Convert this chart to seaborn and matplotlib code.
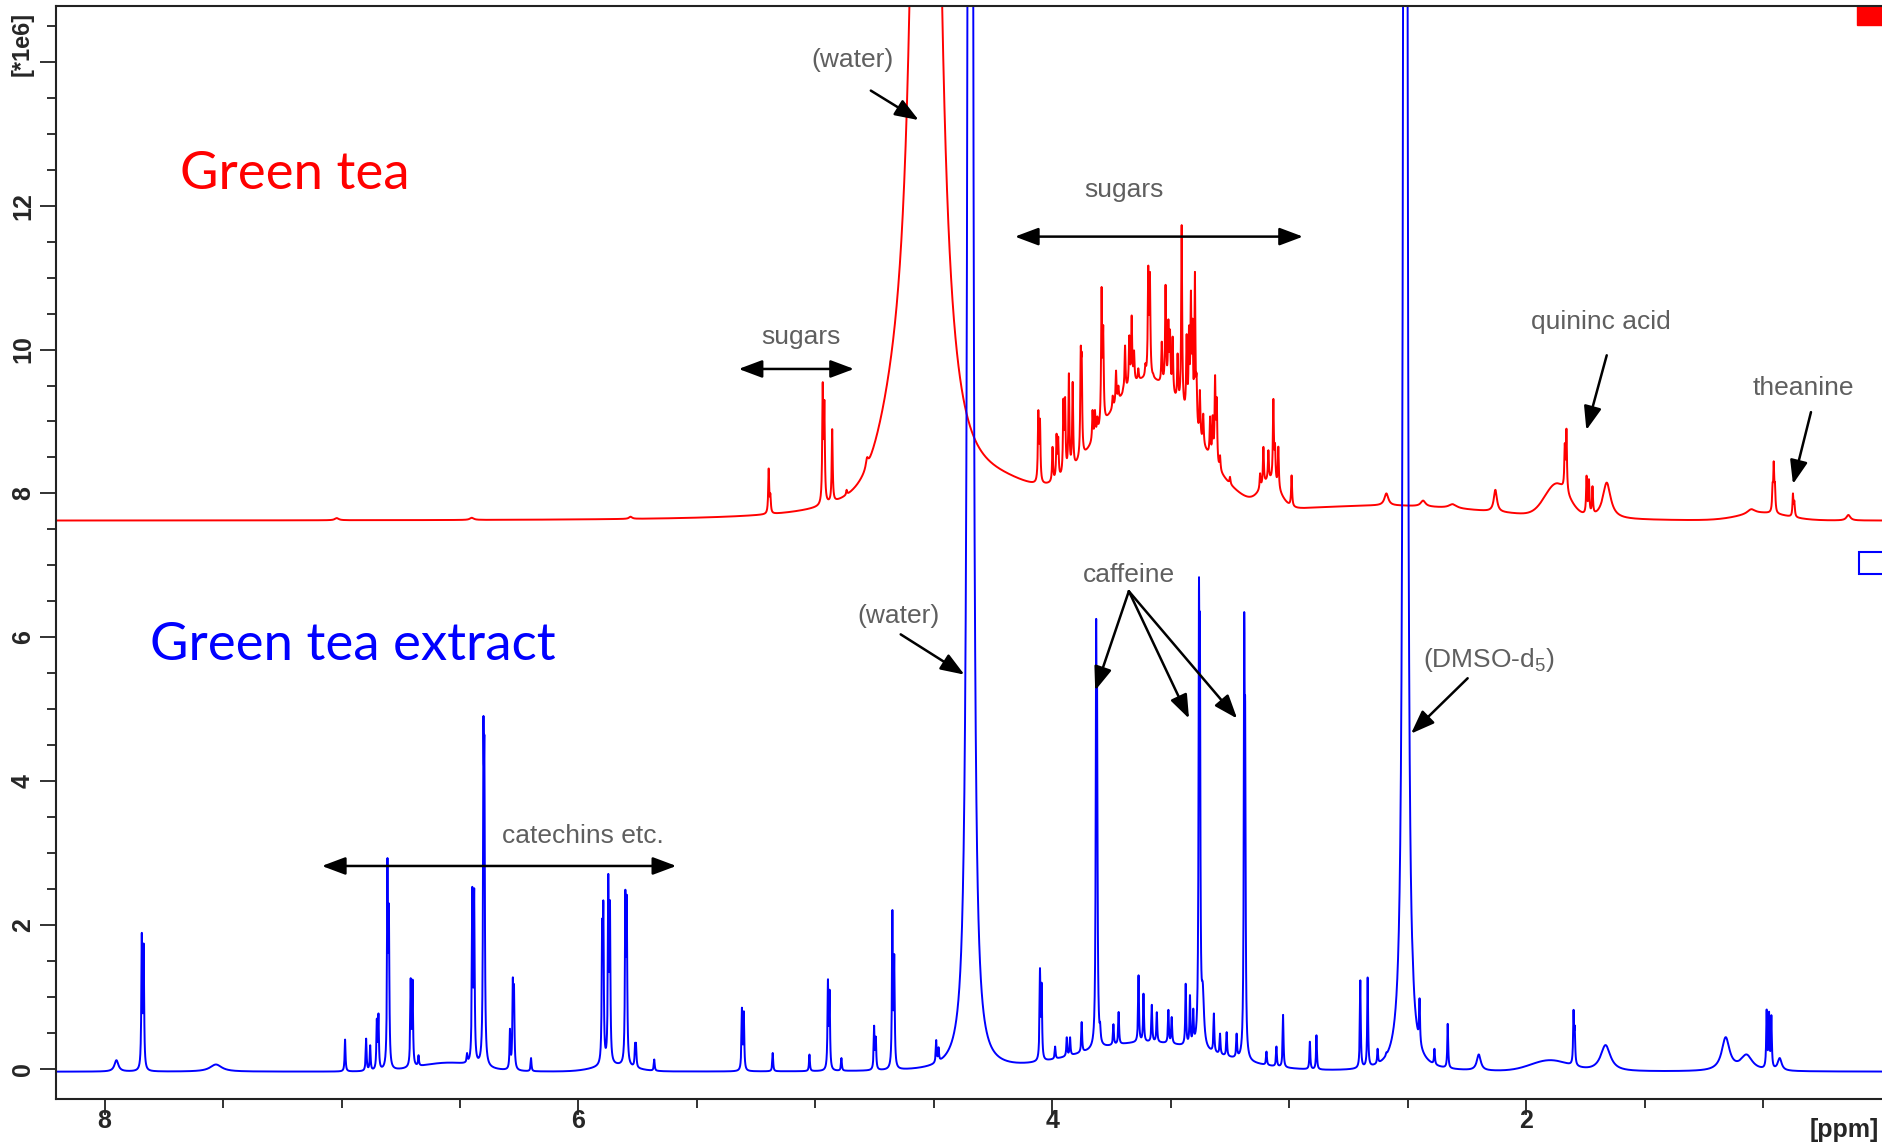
import numpy as np
import pandas as pd
import seaborn as sns
import matplotlib.pyplot as plt
from matplotlib.patches import Rectangle

# chemical shift grid (ppm)
ppm = np.arange(0.49, 8.21, 0.0004)

# ---------------- Green tea (red trace) ----------------
red_offset = 7.62
# broad background humps: centre, height, sigma
red_hump_ppm = [3.60, 4.20, 2.60, 1.87, 3.08, 1.00, 4.66]
red_hump_height = [1.90, 0.30, 0.20, 0.45, 0.35, 0.10, 0.55]
red_hump_sigma = [0.20, 0.15, 0.45, 0.05, 0.04, 0.10, 0.07]
# solvent (water) line
red_solvent_ppm = [4.533]
red_solvent_height = [40.0]
red_solvent_width = [0.0316]
# sharp lines: position and apparent total height (1e6)
red_sharp_ppm = [5.197, 5.190, 4.969, 4.962, 4.929, 4.868,
                 4.059, 4.052, 3.999, 3.982, 3.975, 3.953, 3.946, 3.930, 3.914,
                 3.880, 3.876, 3.830, 3.820, 3.810, 3.792, 3.785, 3.745, 3.731,
                 3.721, 3.700, 3.693, 3.675, 3.665, 3.655, 3.637, 3.607, 3.595,
                 3.588, 3.574, 3.538, 3.522, 3.510, 3.503, 3.492, 3.471, 3.454,
                 3.433, 3.423, 3.415, 3.408, 3.398, 3.391, 3.377, 3.363, 3.334,
                 3.323, 3.313, 3.306, 3.292, 3.250, 3.123, 3.109, 3.088, 3.067,
                 3.060, 3.046, 2.990,
                 1.837, 1.830, 1.745, 1.735, 1.720, 0.960, 0.955, 0.950, 0.874, 0.868]
red_sharp_height = [8.35, 8.00, 9.55, 9.30, 8.90, 8.05,
                    9.16, 9.04, 8.65, 8.83, 8.79, 9.32, 9.34, 9.67, 9.55,
                    10.04, 9.95, 9.16, 9.16, 9.07, 10.87, 10.34, 9.36, 9.71,
                    9.50, 9.41, 10.06, 10.20, 10.48, 9.99, 9.74, 9.81, 11.17,
                    11.08, 9.57, 10.11, 10.90, 10.42, 10.28, 10.18, 9.95, 11.73,
                    10.22, 10.34, 10.83, 10.43, 11.08, 9.67, 9.44, 9.11, 9.07,
                    9.09, 9.65, 9.34, 8.53, 8.23, 8.28, 8.65, 8.60, 9.32,
                    8.70, 8.65, 8.25,
                    8.70, 8.90, 8.25, 8.20, 8.10, 8.15, 8.45, 8.15, 8.00, 7.90]
red_sharp_width = 0.0024
# broader lines: position, total height, half width
red_broad_ppm = [4.782, 2.590, 2.435, 2.310, 2.130, 1.660, 1.050, 0.640, 7.020, 6.450, 5.780]
red_broad_height = [8.50, 8.00, 7.90, 7.85, 8.05, 8.15, 7.78, 7.70, 7.64, 7.64, 7.67]
red_broad_width = [0.006, 0.010, 0.012, 0.020, 0.008, 0.020, 0.020, 0.010, 0.010, 0.010, 0.008]

# ---------------- Green tea extract (blue trace) ----------------
blue_offset = -0.04
blue_hump_ppm = [3.60, 6.55, 5.85, 1.90]
blue_hump_height = [0.40, 0.12, 0.08, 0.15]
blue_hump_sigma = [0.28, 0.12, 0.08, 0.08]
# water and DMSO lines
blue_solvent_ppm = [4.346, 2.510]
blue_solvent_height = [150.0, 200.0]
blue_solvent_width = [0.0041, 0.00274]
blue_sharp_ppm = [7.843, 7.835,
                  6.985, 6.896, 6.879, 6.851, 6.844, 6.806, 6.800, 6.708, 6.700, 6.675,
                  6.470, 6.448, 6.440, 6.401, 6.397, 6.289, 6.277, 6.272, 6.200,
                  5.900, 5.895, 5.874, 5.867, 5.802, 5.796, 5.761, 5.757, 5.680,
                  5.310, 5.302, 5.180, 5.025, 4.947, 4.940, 4.890, 4.752, 4.745,
                  4.675, 4.667, 4.490, 4.480,
                  4.052, 4.045, 3.988, 3.939, 3.925, 3.876, 3.815, 3.811, 3.798,
                  3.742, 3.720, 3.636, 3.615, 3.580, 3.559, 3.510, 3.496, 3.437,
                  3.419, 3.405, 3.381, 3.377, 3.318, 3.292, 3.264, 3.222, 3.190,
                  3.186, 3.096, 3.054, 3.026, 2.913, 2.885, 2.700, 2.669, 2.627,
                  2.590, 2.478, 2.450, 2.387, 2.331,
                  1.800, 1.795, 0.985, 0.975, 0.965]
blue_sharp_height = [1.90, 1.75,
                     0.41, 0.42, 0.33, 0.70, 0.77, 2.93, 2.30, 1.26, 1.24, 0.19,
                     0.22, 2.53, 2.51, 4.87, 4.60, 0.56, 1.27, 1.18, 0.15,
                     2.09, 2.34, 2.71, 2.35, 2.49, 2.42, 0.36, 0.36, 0.13,
                     0.85, 0.80, 0.22, 0.20, 1.25, 1.10, 0.15, 0.60, 0.45,
                     2.22, 1.60, 0.40, 0.30,
                     1.40, 1.20, 0.31, 0.44, 0.44, 0.65, 6.22, 5.50, 0.65,
                     0.62, 0.79, 1.30, 1.05, 0.89, 0.79, 0.82, 0.72, 1.19,
                     1.03, 0.84, 6.79, 6.30, 0.77, 0.49, 0.51, 0.49, 6.35,
                     5.10, 0.24, 0.31, 0.75, 0.38, 0.47, 1.23, 1.28, 0.28,
                     0.21, 1.51, 0.98, 0.28, 0.63,
                     0.82, 0.60, 0.83, 0.80, 0.75]
blue_sharp_width = 0.0022
blue_broad_ppm = [7.950, 7.530, 3.365, 2.200, 1.665, 1.158, 1.070, 0.930]
blue_broad_height = [0.12, 0.06, 1.20, 0.20, 0.33, 0.44, 0.20, 0.15]
blue_broad_width = [0.010, 0.030, 0.006, 0.010, 0.025, 0.020, 0.030, 0.010]


def lorentz(x, c, h, g):
    return h * g ** 2 / ((x - c) ** 2 + g ** 2)


def gauss(x, c, h, s):
    return h * np.exp(-(x - c) ** 2 / (2 * s ** 2))


def build_spectrum(offset, hump, solvent, sharp, sharp_w, broad):
    def background(x):
        b = offset + 0 * np.asarray(x, dtype=float)
        for c, h, s in zip(*hump):
            b = b + gauss(x, c, h, s)
        for c, h, g in zip(*solvent):
            b = b + lorentz(x, c, h, g)
        return b

    lines = [(c, h, sharp_w) for c, h in zip(*sharp)] + list(zip(*broad))
    cen = np.array([l[0] for l in lines])
    wid = np.array([l[2] for l in lines])
    target = np.array([l[1] for l in lines]) - background(cen)
    # overlap matrix so that the summed trace reaches the read heights
    overlap = wid[None, :] ** 2 / ((cen[:, None] - cen[None, :]) ** 2 + wid[None, :] ** 2)
    amp = np.clip(target, 0.03, None)
    for _ in range(300):
        others = overlap @ amp - amp
        amp = 0.5 * amp + 0.5 * np.clip(target - others, 0.03, None)

    y = background(ppm)
    for c, a, g in zip(cen, amp, wid):
        y = y + lorentz(ppm, c, a, g)
    return y


red_y = build_spectrum(red_offset,
                       (red_hump_ppm, red_hump_height, red_hump_sigma),
                       (red_solvent_ppm, red_solvent_height, red_solvent_width),
                       (red_sharp_ppm, red_sharp_height), red_sharp_width,
                       (red_broad_ppm, red_broad_height, red_broad_width))
blue_y = build_spectrum(blue_offset,
                        (blue_hump_ppm, blue_hump_height, blue_hump_sigma),
                        (blue_solvent_ppm, blue_solvent_height, blue_solvent_width),
                        (blue_sharp_ppm, blue_sharp_height), blue_sharp_width,
                        (blue_broad_ppm, blue_broad_height, blue_broad_width))

df = pd.concat([
    pd.DataFrame({"ppm": ppm, "intensity": red_y, "sample": "Green tea"}),
    pd.DataFrame({"ppm": ppm, "intensity": blue_y, "sample": "Green tea extract"}),
])

sns.set_style("ticks")
plt.rcParams["font.family"] = ["Liberation Sans", "DejaVu Sans"]
plt.rcParams["mathtext.default"] = "regular"

fig = plt.figure(figsize=(18.83, 11.46), dpi=100)
ax = fig.add_axes([0.030, 0.041, 0.970, 0.954])

sns.lineplot(data=df, x="ppm", y="intensity", hue="sample",
             hue_order=["Green tea", "Green tea extract"],
             palette={"Green tea": "#ff0000", "Green tea extract": "#0000ff"},
             estimator=None, sort=False, linewidth=1.4, legend=False, ax=ax)

ax.set_xlim(8.203, 0.494)
ax.set_ylim(-0.42, 14.78)
ax.set_xlabel("")
ax.set_ylabel("")

ax.set_xticks([8, 6, 4, 2])
ax.set_xticks(np.arange(1.0, 8.5, 0.5), minor=True)
ax.set_yticks([0, 2, 4, 6, 8, 10, 12, 14])
ax.set_yticklabels(["0", "2", "4", "6", "8", "10", "12", ""])
ax.set_yticks(np.arange(0, 14.6, 0.5), minor=True)
ax.tick_params(axis="both", which="major", length=11.5, width=1.3, labelsize=18, color="#222222")
ax.tick_params(axis="both", which="minor", length=6.5, width=1.3, color="#222222")
ax.tick_params(axis="x", pad=4)
ax.tick_params(axis="y", labelrotation=90, pad=4)
for lab in ax.get_xticklabels() + ax.get_yticklabels():
    lab.set_fontweight("bold")
    lab.set_va("center")
for side in ["left", "bottom", "top"]:
    ax.spines[side].set_color("#222222")
    ax.spines[side].set_linewidth(1.5)
ax.spines["right"].set_visible(False)

fig.text(0.0115, 0.962, "[*1e6]", rotation=90, ha="center", va="center",
         fontsize=17, fontweight="bold")
fig.text(0.998, 0.014, "[ppm]", ha="right", va="center", fontsize=18, fontweight="bold")

# sample indicator boxes
ax.add_patch(Rectangle((0.986, 0.982), 0.03, 0.018, transform=ax.transAxes,
                       facecolor="#ff0000", edgecolor="#ff0000", clip_on=False))
ax.add_patch(Rectangle((0.987, 0.480), 0.03, 0.0205, transform=ax.transAxes,
                       facecolor="white", edgecolor="#0000ff", lw=1.5, clip_on=False))

# titles
ax.text(7.68, 12.44, "Green tea", color="#ff0000", fontsize=38, family="Lato",
        ha="left", va="center")
ax.text(7.807, 5.89, "Green tea extract", color="#0000ff", fontsize=38, family="Lato",
        ha="left", va="center")

# annotations
gray = "#5f5f5f"
arrow = dict(arrowstyle="-|>,head_length=0.8,head_width=0.3", color="black",
             lw=1.8, mutation_scale=18, shrinkA=0, shrinkB=0)
darrow = dict(arrowstyle="<|-|>,head_length=0.8,head_width=0.3", color="black",
              lw=1.8, mutation_scale=18, shrinkA=0, shrinkB=0)

ax.text(4.842, 14.02, "(water)", color=gray, fontsize=19, ha="center", va="center")
ax.annotate("", xy=(4.564, 13.19), xytext=(4.766, 13.6), arrowprops=arrow)

ax.text(3.697, 12.22, "sugars", color=gray, fontsize=19, ha="center", va="center")
ax.annotate("", xy=(2.942, 11.57), xytext=(4.158, 11.57), arrowprops=darrow)

ax.text(5.060, 10.17, "sugars", color=gray, fontsize=19, ha="center", va="center")
ax.annotate("", xy=(4.837, 9.73), xytext=(5.324, 9.73), arrowprops=darrow)

ax.text(1.685, 10.38, "quininc acid", color=gray, fontsize=19, ha="center", va="center")
ax.annotate("", xy=(1.746, 8.88), xytext=(1.66, 9.92), arrowprops=arrow)

ax.text(0.828, 9.47, "theanine", color=gray, fontsize=19, ha="center", va="center")
ax.annotate("", xy=(0.874, 8.13), xytext=(0.798, 9.13), arrowprops=arrow)

ax.text(3.677, 6.86, "caffeine", color=gray, fontsize=19, ha="center", va="center")
for hx, hy in [(3.819, 5.26), (3.423, 4.87), (3.22, 4.87)]:
    ax.annotate("", xy=(hx, hy), xytext=(3.677, 6.64), arrowprops=arrow)

ax.text(4.65, 6.29, "(water)", color=gray, fontsize=19, ha="center", va="center")
ax.annotate("", xy=(4.371, 5.48), xytext=(4.64, 6.04), arrowprops=arrow)

ax.text(2.156, 5.68, "(DMSO-d$_5$)", color=gray, fontsize=19, ha="center", va="center")
ax.annotate("", xy=(2.486, 4.66), xytext=(2.247, 5.43), arrowprops=arrow)

ax.text(5.983, 3.24, "catechins etc.", color=gray, fontsize=19, ha="center", va="center")
ax.annotate("", xy=(5.587, 2.82), xytext=(7.083, 2.82), arrowprops=darrow)

fig.savefig("out.png", dpi=100)
